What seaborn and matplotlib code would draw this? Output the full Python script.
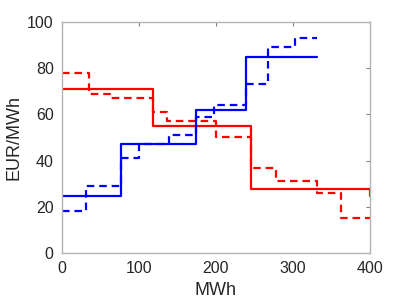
import matplotlib
matplotlib.use("Agg")
import matplotlib.pyplot as plt
import seaborn as sns
import pandas as pd

# Step edges (MWh) and prices (EUR/MWh)
red_solid_x = [0, 118, 246, 400, 420]
red_solid_y = [71, 55, 27.5, 24.7, 24.7]

red_dash_x = [0, 35.5, 62, 118, 137, 200, 246, 278, 331, 362, 400]
red_dash_y = [78, 69, 67, 61, 57, 50, 37, 31, 26, 15, 15]

blue_solid_x = [0, 77, 174, 238.5, 331]
blue_solid_y = [24.5, 47, 62, 85, 85]

blue_dash_x = [0, 31, 77, 100, 139, 174, 197, 238.5, 268, 302, 331]
blue_dash_y = [18, 29, 41, 47, 51, 59, 64, 73, 89, 93, 93]

x_ticks = [0, 100, 200, 300, 400]
y_ticks = [0, 20, 40, 60, 80, 100]

sns.set_style("white")
plt.rcParams['font.family'] = ['Liberation Sans', 'DejaVu Sans']

fig = plt.figure(figsize=(4.09, 3.06), dpi=100)
ax = fig.add_axes([0.1516, 0.1732, 0.753, 0.755])

dash = (0, (3.4, 2.2))
series = [
    (red_dash_x, red_dash_y, "#ff0000", dash),
    (blue_dash_x, blue_dash_y, "#0000ff", dash),
    (red_solid_x, red_solid_y, "#ff0000", "-"),
    (blue_solid_x, blue_solid_y, "#0000ff", "-"),
]
for xs, ys, c, ls in series:
    df = pd.DataFrame({"x": xs, "y": ys})
    sns.lineplot(data=df, x="x", y="y", ax=ax, color=c, linewidth=1.6,
                 linestyle=ls, drawstyle="steps-post", estimator=None,
                 sort=False)

ax.set_xlim(0, 400)
ax.set_ylim(0, 100)
ax.set_xticks(x_ticks)
ax.set_yticks(y_ticks)
ax.set_xlabel("MWh", fontsize=13, color="#262626", labelpad=4)
ax.set_ylabel("EUR/MWh", fontsize=13, color="#262626", labelpad=3)

spine_c = "#b3b3b3"
for s in ax.spines.values():
    s.set_visible(True)
    s.set_color(spine_c)
    s.set_linewidth(1.0)
ax.tick_params(direction="in", length=3, width=0.8, color="#808080",
               top=True, right=True, labelsize=11.5, labelcolor="#262626", pad=6)

fig.savefig("out.png", dpi=100)
